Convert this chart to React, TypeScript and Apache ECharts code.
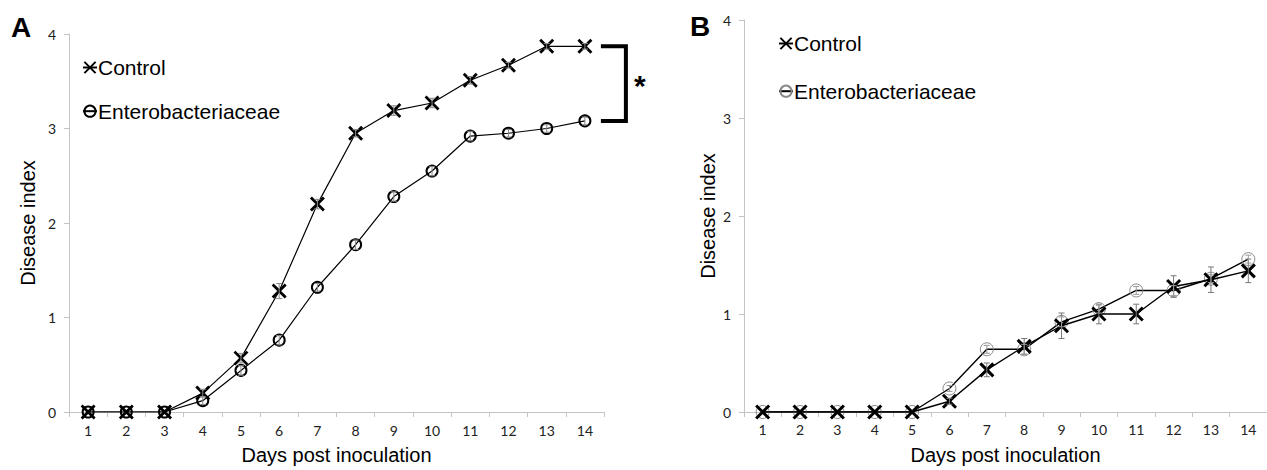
import React, { useEffect, useRef } from 'react';
import * as echarts from 'echarts';

const days = ['1', '2', '3', '4', '5', '6', '7', '8', '9', '10', '11', '12', '13', '14'];
const yTicks = [0, 1, 2, 3, 4];

const controlA = [0, 0, 0, 0.2, 0.57, 1.28, 2.2, 2.95, 3.19, 3.27, 3.51, 3.67, 3.87, 3.87];
const enteroA = [0, 0, 0, 0.12, 0.44, 0.76, 1.32, 1.77, 2.28, 2.55, 2.92, 2.95, 3.0, 3.08];
const controlAErr = [0, 0, 0, 0.04, 0.05, 0.08, 0.05, 0.04, 0.05, 0.05, 0.04, 0.03, 0.03, 0.03];
const enteroAErr = [0, 0, 0, 0.04, 0.05, 0.05, 0.04, 0.05, 0.05, 0.05, 0.05, 0.04, 0.04, 0.04];

const controlB = [0, 0, 0, 0, 0, 0.11, 0.43, 0.67, 0.88, 1.0, 1.0, 1.28, 1.35, 1.44];
const enteroB = [0, 0, 0, 0, 0, 0.24, 0.64, 0.64, 0.92, 1.05, 1.24, 1.24, 1.36, 1.56];
const controlBErr = [0, 0, 0, 0, 0, 0.03, 0.07, 0.08, 0.13, 0.1, 0.1, 0.11, 0.13, 0.12];
const enteroBErr = [0, 0, 0, 0, 0, 0.03, 0.04, 0.05, 0.05, 0.04, 0.04, 0.05, 0.04, 0.04];

const seriesNames = ['A: Control', 'A: Enterobacteriaceae', 'B: Control', 'B: Enterobacteriaceae'];

const SANS = '"Liberation Sans", Arial, sans-serif';
const TICKFONT = 'Lato, "Open Sans", sans-serif';
const CROSS = 'path://M0,0L10,10M0,10L10,0';

function errData(vals: number[], errs: number[]) {
  const out: number[][] = [];
  vals.forEach((v, i) => {
    if (errs[i] > 0) out.push([i, v - errs[i], v + errs[i]]);
  });
  return out;
}

function errSeries(idx: number, vals: number[], errs: number[], color: string) {
  return {
    type: 'custom',
    name: 'err' + idx + '_' + color,
    xAxisIndex: idx,
    yAxisIndex: idx,
    z: 5,
    silent: true,
    encode: { x: 0, y: [1, 2] },
    data: errData(vals, errs),
    renderItem: (params: any, api: any) => {
      const x = api.value(0);
      const lo = api.coord([x, api.value(1)]);
      const hi = api.coord([x, api.value(2)]);
      const cap = 3;
      const style = { stroke: color, lineWidth: 1 };
      return {
        type: 'group',
        children: [
          { type: 'line', shape: { x1: lo[0], y1: lo[1], x2: hi[0], y2: hi[1] }, style },
          { type: 'line', shape: { x1: lo[0] - cap, y1: lo[1], x2: lo[0] + cap, y2: lo[1] }, style },
          { type: 'line', shape: { x1: hi[0] - cap, y1: hi[1], x2: hi[0] + cap, y2: hi[1] }, style },
        ],
      };
    },
  };
}

function xAxis(idx: number, margin: number) {
  return {
    type: 'category',
    gridIndex: idx,
    data: days,
    boundaryGap: true,
    name: 'Days post inoculation',
    nameLocation: 'middle',
    nameGap: 33,
    nameTextStyle: { fontSize: 20, fontFamily: SANS, color: '#000' },
    axisLine: { lineStyle: { color: '#c4c4c4', width: 1 } },
    axisTick: { show: true, length: 5, alignWithLabel: false, lineStyle: { color: '#c4c4c4' } },
    axisLabel: { margin, fontSize: 14, fontFamily: TICKFONT, color: '#222' },
    splitLine: { show: false },
  };
}

function yAxis(idx: number, nameGap: number) {
  return {
    type: 'value',
    gridIndex: idx,
    min: yTicks[0],
    max: yTicks[yTicks.length - 1],
    interval: 1,
    name: 'Disease index',
    nameLocation: 'middle',
    nameGap,
    nameTextStyle: { fontSize: 20, fontFamily: SANS, color: '#000' },
    axisLine: { show: true, lineStyle: { color: '#c4c4c4', width: 1 } },
    axisTick: { show: true, length: 5, lineStyle: { color: '#c4c4c4' } },
    axisLabel: { margin: 13, fontSize: 14, fontFamily: TICKFONT, color: '#222' },
    splitLine: { show: false },
  };
}

function legend(names: string[], left: number, top: number, gap: number) {
  return {
    left,
    top,
    padding: 0,
    orient: 'vertical',
    itemGap: gap,
    itemWidth: 14,
    itemHeight: 14,
    selectedMode: false,
    data: names,
    formatter: (n: string) => n.slice(3),
    textStyle: { fontSize: 21, fontFamily: SANS, color: '#000', padding: [0, 0, 0, -4] },
  };
}

export default function App() {
  const ref = useRef<HTMLDivElement>(null);

  useEffect(() => {
    if (!ref.current) return;
    const chart = echarts.init(ref.current, undefined, { renderer: 'svg' });
    const option: any = {
      animation: false,
      backgroundColor: '#fff',
      grid: [
        { left: 69, top: 34, width: 535, height: 382 },
        { left: 744, top: 20, width: 531, height: 397 },
      ],
      xAxis: [xAxis(0, 11), xAxis(1, 10)],
      yAxis: [yAxis(0, 31), yAxis(1, 26)],
      legend: [
        legend([seriesNames[0], seriesNames[1]], 82, 57, 22.7),
        legend([seriesNames[2], seriesNames[3]], 778, 33, 26.7),
      ],
      series: [
        {
          type: 'line',
          name: seriesNames[1],
          xAxisIndex: 0,
          yAxisIndex: 0,
          data: enteroA,
          symbol: 'circle',
          symbolSize: 11,
          itemStyle: { color: 'rgba(0,0,0,0)', borderColor: '#000', borderWidth: 2 },
          lineStyle: { color: '#000', width: 1.2 },
          z: 3,
        },
        {
          type: 'line',
          name: seriesNames[0],
          xAxisIndex: 0,
          yAxisIndex: 0,
          data: controlA,
          symbol: CROSS,
          symbolSize: 13,
          itemStyle: { color: '#000', borderColor: '#000', borderWidth: 2.8 },
          lineStyle: { color: '#000', width: 1.2 },
          z: 4,
        },
        errSeries(0, controlA, controlAErr, '#888'),
        errSeries(0, enteroA, enteroAErr, '#888'),
        {
          type: 'line',
          name: seriesNames[3],
          xAxisIndex: 1,
          yAxisIndex: 1,
          data: enteroB,
          symbol: 'circle',
          symbolSize: 13,
          itemStyle: { color: 'rgba(0,0,0,0)', borderColor: '#888', borderWidth: 1 },
          lineStyle: { color: '#000', width: 1.4 },
          z: 3,
        },
        {
          type: 'line',
          name: seriesNames[2],
          xAxisIndex: 1,
          yAxisIndex: 1,
          data: controlB,
          symbol: CROSS,
          symbolSize: 13,
          itemStyle: { color: '#000', borderColor: '#000', borderWidth: 3 },
          lineStyle: { color: '#000', width: 1.4 },
          z: 4,
        },
        errSeries(1, controlB, controlBErr, '#777'),
        errSeries(1, enteroB, enteroBErr, '#999'),
      ],
    };
    chart.setOption(option);

    const last = days.length - 1;
    const pTop = chart.convertToPixel({ gridIndex: 0 } as any, [last, controlA[last]]) as number[];
    const pBot = chart.convertToPixel({ gridIndex: 0 } as any, [last, enteroA[last]]) as number[];
    const x0 = pTop[0] + 16;
    const x1 = pTop[0] + 41;
    chart.setOption({
      graphic: {
        elements: [
          {
            type: 'polyline',
            shape: { points: [[x0, pTop[1]], [x1, pTop[1]], [x1, pBot[1]], [x0, pBot[1]]] },
            style: { stroke: '#000', lineWidth: 4, fill: 'none' },
          },
          {
            type: 'text',
            x: x1 + 14,
            y: (pTop[1] + pBot[1]) / 2 + 2,
            style: { text: '*', font: `bold 30px ${SANS}`, fill: '#000', align: 'center', verticalAlign: 'middle' },
          },
          {
            type: 'text',
            left: 11,
            top: 13,
            style: { text: 'A', font: `bold 28px ${SANS}`, fill: '#000' },
          },
          {
            type: 'text',
            left: 690,
            top: 12,
            style: { text: 'B', font: `bold 28px ${SANS}`, fill: '#000' },
          },
        ],
      },
    });

    return () => chart.dispose();
  }, []);

  return (
    <div
      ref={ref}
      style={{ position: 'absolute', left: 0, top: 0, width: 1267, height: 470, background: '#fff' }}
    />
  );
}
